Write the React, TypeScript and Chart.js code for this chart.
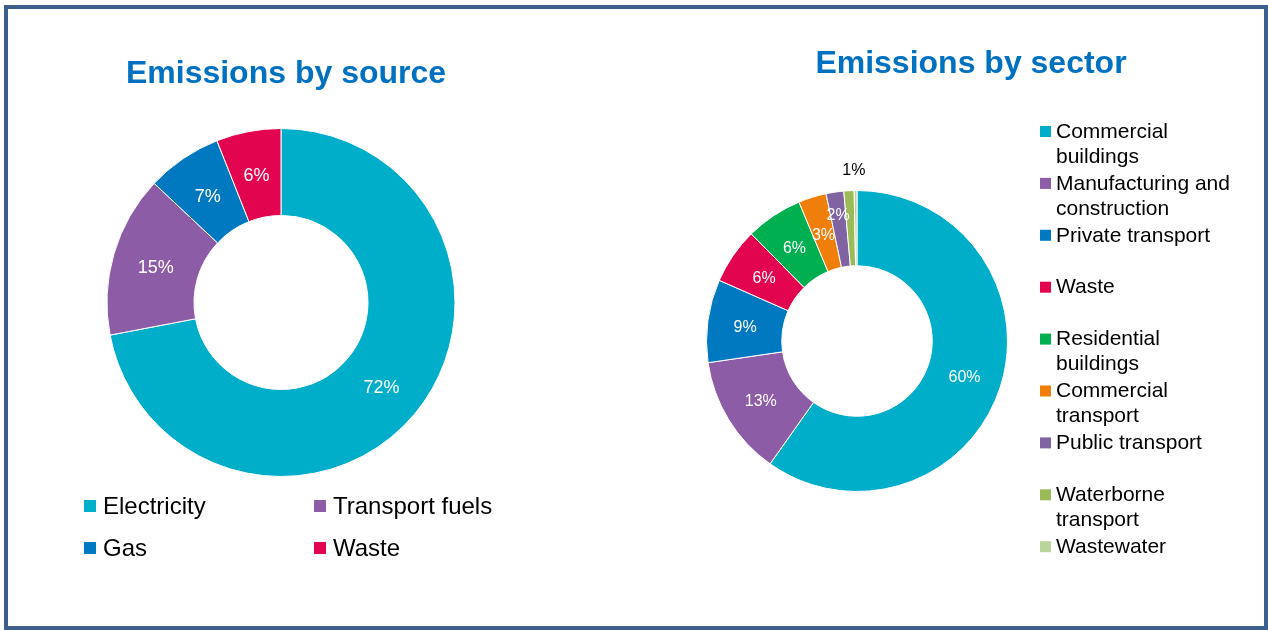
import React, { useEffect, useRef } from 'react';
import { Chart, registerables } from 'chart.js';

Chart.register(...registerables);

const FONT = "'Liberation Sans', Arial, Helvetica, sans-serif";

const sourceTitle = 'Emissions by source';
const sourceLabels = ['Electricity', 'Transport fuels', 'Gas', 'Waste'];
const sourceValues = [72, 15, 7, 6];
const sourceColors = ['#00AECA', '#8D5CA6', '#0079C1', '#E2044F'];

const sectorTitle = 'Emissions by sector';
const sectorLabels = [
  'Commercial buildings',
  'Manufacturing and construction',
  'Private transport',
  'Waste',
  'Residential buildings',
  'Commercial transport',
  'Public transport',
  'Waterborne transport',
  'Wastewater',
];
const sectorValues = [59.8, 12.9, 8.9, 6.0, 6.1, 3.0, 1.9, 1.1, 0.3];
const sectorColors = [
  '#00AECA',
  '#8D5CA6',
  '#0079C1',
  '#E2044F',
  '#00B050',
  '#F07E0A',
  '#8064A2',
  '#9BBB59',
  '#BBD49A',
];

type Cfg = {
  title: string;
  titleX: number;
  titleY: number;
  labelFont: number;
  legend: (chart: any) => void;
};

function wrap(ctx: CanvasRenderingContext2D, text: string, maxW: number): string[] {
  const words = text.split(' ');
  const lines: string[] = [];
  let cur = '';
  for (const w of words) {
    const t = cur ? cur + ' ' + w : w;
    if (ctx.measureText(t).width > maxW && cur) {
      lines.push(cur);
      cur = w;
    } else cur = t;
  }
  if (cur) lines.push(cur);
  return lines;
}

function makePlugin(cfg: Cfg) {
  return {
    id: 'custom',
    afterDatasetsDraw(chart: any) {
      const ctx: CanvasRenderingContext2D = chart.ctx;
      const meta = chart.getDatasetMeta(0);
      const data: number[] = chart.data.datasets[0].data;
      const total = data.reduce((a, b) => a + b, 0);
      ctx.save();
      ctx.font = `${cfg.labelFont}px ${FONT}`;
      ctx.textAlign = 'center';
      ctx.textBaseline = 'middle';
      const placed: { x: number; y: number; w: number; h: number }[] = [];
      meta.data.forEach((arc: any, i: number) => {
        const p = arc.getProps(['x', 'y', 'startAngle', 'endAngle', 'innerRadius', 'outerRadius'], true);
        const pct = (data[i] / total) * 100;
        if (pct < 0.5) return;
        const txt = Math.round(pct) + '%';
        const mid = (p.startAngle + p.endAngle) / 2;
        const outside = pct < 1.5;
        let r = outside ? p.outerRadius + 22 : (p.innerRadius + p.outerRadius) / 2;
        const w = ctx.measureText(txt).width;
        const h = cfg.labelFont * 0.8;
        let x = 0, y = 0;
        for (let k = 0; k < 60; k++) {
          x = p.x + Math.cos(mid) * r;
          y = p.y + Math.sin(mid) * r;
          const hit = placed.some(
            (q) => Math.abs(q.x - x) < (q.w + w) / 2 + 2 && Math.abs(q.y - y) < (q.h + h) / 2 + 6
          );
          if (!hit) break;
          r += 1;
        }
        placed.push({ x, y, w, h });
        ctx.fillStyle = outside ? '#000000' : '#FFFFFF';
        ctx.fillText(txt, outside ? x + 6 : x, y + 2);
      });
      // title
      ctx.font = `bold 32px ${FONT}`;
      ctx.fillStyle = '#0070C0';
      ctx.textAlign = 'center';
      ctx.textBaseline = 'alphabetic';
      ctx.fillText(cfg.title, cfg.titleX, cfg.titleY);
      cfg.legend(chart);
      ctx.restore();
    },
  };
}

function sourceLegend(chart: any) {
  const ctx: CanvasRenderingContext2D = chart.ctx;
  const labels: string[] = chart.data.labels;
  const colors: string[] = chart.data.datasets[0].backgroundColor;
  const cols = [74, 304];
  const rows = [496, 538];
  ctx.font = `24px ${FONT}`;
  ctx.textAlign = 'left';
  ctx.textBaseline = 'middle';
  labels.forEach((lab, i) => {
    const x = cols[i % 2];
    const y = rows[Math.floor(i / 2)];
    ctx.fillStyle = colors[i];
    ctx.fillRect(x, y - 6, 12, 12);
    ctx.fillStyle = '#000000';
    ctx.fillText(lab, x + 19, y + 1);
  });
}

function sectorLegend(chart: any) {
  const ctx: CanvasRenderingContext2D = chart.ctx;
  const labels: string[] = chart.data.labels;
  const colors: string[] = chart.data.datasets[0].backgroundColor;
  ctx.font = `21px ${FONT}`;
  ctx.textAlign = 'left';
  ctx.textBaseline = 'middle';
  labels.forEach((lab, i) => {
    const y = 121 + i * 51.9;
    ctx.fillStyle = colors[i];
    ctx.fillRect(400, y - 5, 11, 11);
    ctx.fillStyle = '#000000';
    const lines = wrap(ctx, lab, 186);
    lines.forEach((ln, j) => ctx.fillText(ln, 416, y + 1 + j * 25));
  });
}

function Donut(props: {
  labels: string[];
  values: number[];
  colors: string[];
  padding: { left: number; right: number; top: number; bottom: number };
  cfg: Cfg;
  width: number;
  height: number;
  left: number;
  top: number;
}) {
  const ref = useRef<HTMLCanvasElement | null>(null);
  useEffect(() => {
    if (!ref.current) return;
    const chart = new Chart(ref.current, {
      type: 'doughnut',
      data: {
        labels: props.labels,
        datasets: [
          {
            data: props.values,
            backgroundColor: props.colors,
            borderColor: '#FFFFFF',
            borderWidth: 1,
          },
        ],
      },
      options: {
        responsive: false,
        animation: false,
        cutout: '50%',
        layout: { padding: props.padding },
        plugins: {
          legend: { display: false },
          tooltip: { enabled: false },
          title: { display: false },
        },
      },
      plugins: [makePlugin(props.cfg)],
    } as any);
    return () => chart.destroy();
  }, []);
  return (
    <canvas
      ref={ref}
      width={props.width}
      height={props.height}
      style={{ position: 'absolute', left: props.left, top: props.top, width: props.width, height: props.height }}
    />
  );
}

export default function App() {
  return (
    <div style={{ position: 'absolute', left: 0, top: 0, width: 1268, height: 630, background: '#FFFFFF', overflow: 'hidden' }}>
      <div
        style={{
          position: 'absolute',
          left: 4,
          top: 5,
          width: 1264,
          height: 625,
          boxSizing: 'border-box',
          border: '4px solid #3C5F8D',
        }}
      />
      <Donut
        labels={sourceLabels}
        values={sourceValues}
        colors={sourceColors}
        padding={{ left: 96, right: 154, top: 118, bottom: 143 }}
        width={600}
        height={610}
        left={10}
        top={10}
        cfg={{ title: sourceTitle, titleX: 276, titleY: 73, labelFont: 18, legend: sourceLegend }}
      />
      <Donut
        labels={sectorLabels}
        values={sectorValues}
        colors={sectorColors}
        padding={{ left: 66, right: 252, top: 180, bottom: 128 }}
        width={620}
        height={610}
        left={640}
        top={10}
        cfg={{ title: sectorTitle, titleX: 331, titleY: 63, labelFont: 16, legend: sectorLegend }}
      />
    </div>
  );
}
